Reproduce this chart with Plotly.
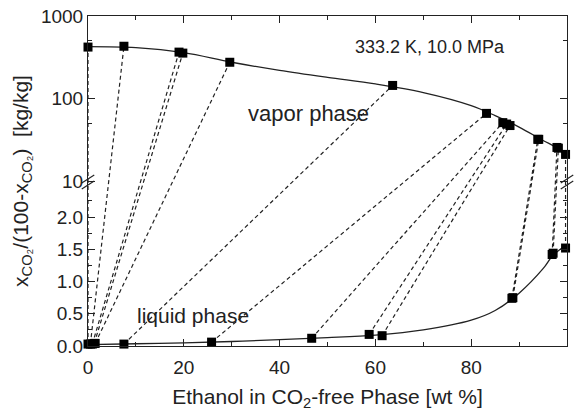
import numpy as np
import plotly.graph_objects as go

# Tie-line end points: liquid phase (linear part) and vapor phase (log part)
liquid_x = [0.0, 0.5, 0.9, 1.3, 1.5, 7.5, 25.8, 46.7, 58.7, 61.4, 88.5, 88.7, 96.9, 97.1, 99.7]
liquid_y = [0.03, 0.03, 0.03, 0.04, 0.04, 0.03, 0.06, 0.12, 0.18, 0.16, 0.74, 0.75, 1.42, 1.44, 1.52]
vapor_x = [0.0, 7.5, 19.0, 19.8, 29.6, 63.6, 83.2, 86.6, 87.4, 88.1, 93.9, 94.1, 97.9, 98.2, 99.7]
vapor_y = [420, 430, 365, 355, 275, 144, 66, 51, 49, 47, 32, 32, 25.5, 25, 21]

# Smoothed phase boundaries
vap_curve_x = [0, 10, 20, 30, 40, 50, 60, 70, 80, 85, 90, 95, 98, 100]
vap_curve_y = [425, 413, 359, 275, 219, 180, 150, 118, 82, 62, 45, 31, 25, 20]
liq_curve_x = [0, 10, 20, 30, 40, 50, 60, 70, 80, 85, 90, 95, 97, 100]
liq_curve_y = [0.02, 0.035, 0.05, 0.07, 0.1, 0.13, 0.17, 0.25, 0.40, 0.55, 0.82, 1.2, 1.4, 1.58]

x_ticks = [0, 20, 40, 60, 80, 100]
lin_ticks = [0.0, 0.5, 1.0, 1.5, 2.0]
log_ticks = [10, 100, 1000]

# Broken y axis: lower half linear 0..YB, upper half log 10..1000
YB = 2.56


def lin_pos(v):
    return np.asarray(v, dtype=float) / YB


def log_pos(v):
    return 1 + (np.log10(np.asarray(v, dtype=float)) - 1) / 2


INK = "#222222"
FONT = "Liberation Sans, Arial, sans-serif"

fig = go.Figure()

# dashed tie lines
tx, ty = [], []
for lx, ly, vx, vy in zip(liquid_x, liquid_y, vapor_x, vapor_y):
    tx += [lx, vx, None]
    ty += [float(lin_pos(ly)), float(log_pos(vy)), None]
fig.add_trace(go.Scatter(x=tx, y=ty, mode="lines",
                         line=dict(color=INK, width=1.2, dash="4px,3px"),
                         hoverinfo="skip", cliponaxis=False))

# phase boundaries
fig.add_trace(go.Scatter(x=vap_curve_x, y=log_pos(vap_curve_y), mode="lines",
                         line=dict(color=INK, width=1.3, shape="spline"),
                         hoverinfo="skip"))
fig.add_trace(go.Scatter(x=liq_curve_x, y=lin_pos(liq_curve_y), mode="lines",
                         line=dict(color=INK, width=1.3, shape="spline"),
                         hoverinfo="skip"))

# measured points
fig.add_trace(go.Scatter(x=vapor_x, y=log_pos(vapor_y), mode="markers",
                         marker=dict(symbol="square", size=9, color="black"),
                         cliponaxis=False))
fig.add_trace(go.Scatter(x=liquid_x, y=lin_pos(liquid_y), mode="markers",
                         marker=dict(symbol="square", size=9, color="black"),
                         cliponaxis=False))

y_tickvals = list(lin_pos(lin_ticks)) + list(log_pos(log_ticks))
y_ticktext = [f"{v:.1f}" for v in lin_ticks] + [str(v) for v in log_ticks]
y_minor = list(lin_pos([0.25, 0.75, 1.25, 1.75, 2.25])) + list(log_pos([50, 500]))

fig.update_layout(
    width=582, height=411,
    margin=dict(l=88, r=15, t=16, b=65),
    paper_bgcolor="white", plot_bgcolor="white",
    showlegend=False,
    font=dict(family=FONT, color=INK, size=19),
    xaxis=dict(
        range=[0, 100], tickvals=x_ticks, ticks="inside", ticklen=7, tickwidth=1,
        tickcolor=INK, showline=True, linecolor=INK, linewidth=1, mirror="ticks",
        showgrid=False, zeroline=False, automargin=False,
        minor=dict(tickvals=[10, 30, 50, 70, 90], ticks="inside", ticklen=4, tickcolor=INK),
        tickfont=dict(size=19), ticklabelstandoff=4,
        title=dict(text="Ethanol in CO<sub>2</sub>-free Phase [wt %]",
                   font=dict(size=21), standoff=16),
    ),
    yaxis=dict(
        range=[0, 2], tickvals=y_tickvals, ticktext=y_ticktext,
        ticks="inside", ticklen=7, tickwidth=1, tickcolor=INK,
        showline=True, linecolor=INK, linewidth=1, mirror="ticks",
        showgrid=False, zeroline=False, automargin=False,
        minor=dict(tickvals=y_minor, ticks="inside", ticklen=4, tickcolor=INK),
        tickfont=dict(size=19),
        title=dict(text="x<sub>CO₂</sub>/(100-x<sub>CO₂</sub>)  [kg/kg]",
                   font=dict(size=21), standoff=6),
    ),
)

# axis break marks on both vertical axes
for xp in (0.0, 1.0):
    for dy in (-0.012, 0.006):
        fig.add_shape(type="line", xref="paper", yref="paper",
                      x0=xp - 0.013, x1=xp + 0.013,
                      y0=0.5 + dy - 0.012, y1=0.5 + dy + 0.012,
                      line=dict(color=INK, width=1.2))

labels = [
    ("333.2 K, 10.0 MPa", 0.713, 0.906, 18),
    ("vapor phase", 0.461, 0.705, 22),
    ("liquid phase", 0.220, 0.093, 21),
]
for text, xp, yp, size in labels:
    fig.add_annotation(text=text, x=xp, y=yp, xref="paper", yref="paper",
                       xanchor="center", yanchor="middle",
                       showarrow=False, font=dict(size=size))

fig.write_html("out.html")
